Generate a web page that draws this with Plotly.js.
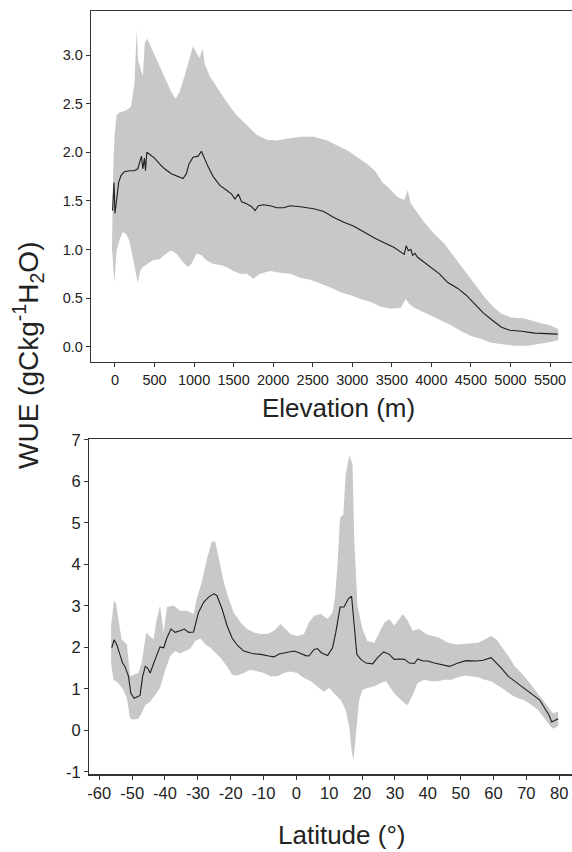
<!DOCTYPE html>
<html>
<head>
<meta charset="utf-8">
<script src="https://cdn.plot.ly/plotly-3.0.1.min.js"></script>
<style>html,body{margin:0;padding:0;background:#fff;}#chart{width:572px;height:852px;}</style>
</head>
<body>
<div id="chart"></div>
<script>
// ---- Top panel: WUE vs elevation ----
const elevMeanX = [-30,-13,0,21,47,76,119,182,246,288,318,335,352,373,386,403,436,500,564,627,712,797,860,903,936,987,1051,1093,1123,1178,1242,1326,1411,1475,1517,1559,1602,1665,1729,1771,1814,1877,1962,2047,2131,2216,2343,2513,2640,2767,2894,3021,3148,3275,3403,3530,3657,3682,3708,3742,3763,3792,3826,3911,3996,4102,4208,4335,4441,4547,4653,4758,4886,4992,5140,5309,5479,5597];
const elevMeanY = [1.40,1.69,1.37,1.54,1.69,1.76,1.80,1.81,1.81,1.83,1.92,1.96,1.83,1.94,1.81,2.00,1.98,1.94,1.88,1.83,1.78,1.75,1.73,1.78,1.88,1.95,1.96,2.01,1.95,1.85,1.75,1.66,1.61,1.57,1.52,1.57,1.49,1.47,1.44,1.40,1.45,1.46,1.45,1.43,1.43,1.45,1.44,1.42,1.39,1.33,1.28,1.24,1.18,1.12,1.07,1.02,0.95,1.04,0.99,1.00,0.94,0.96,0.92,0.87,0.82,0.75,0.66,0.60,0.53,0.44,0.35,0.28,0.20,0.17,0.16,0.14,0.13,0.13];
const elevUpX = [-38,-21,-4,21,55,140,203,246,275,292,318,352,377,403,436,500,564,627,712,767,818,881,945,987,1030,1072,1106,1136,1199,1284,1369,1453,1538,1665,1792,1919,2047,2174,2343,2513,2682,2809,2936,3064,3191,3297,3381,3466,3572,3657,3700,3742,3826,3911,4038,4165,4292,4420,4547,4674,4780,4886,5013,5182,5352,5500,5606];
const elevUpY = [1.02,1.85,2.19,2.38,2.41,2.43,2.47,2.71,3.26,2.95,2.88,2.78,3.12,3.17,3.12,3.00,2.88,2.76,2.62,2.55,2.62,2.79,2.98,3.09,3.02,2.97,3.07,2.91,2.78,2.67,2.57,2.47,2.38,2.28,2.18,2.13,2.12,2.14,2.16,2.16,2.12,2.07,2.02,1.95,1.88,1.80,1.69,1.63,1.54,1.51,1.61,1.47,1.37,1.28,1.16,1.06,0.92,0.78,0.65,0.51,0.41,0.34,0.30,0.29,0.25,0.22,0.18];
const elevLoX = [-38,-30,-8,21,55,97,140,182,225,267,288,318,352,415,479,564,648,712,775,860,924,966,1030,1093,1157,1242,1326,1411,1496,1581,1665,1750,1835,1962,2089,2216,2343,2470,2597,2724,2852,2979,3106,3233,3360,3487,3614,3678,3720,3784,3869,3996,4123,4250,4377,4504,4631,4758,4886,5055,5225,5394,5521,5606];
const elevLoY = [1.02,0.96,0.66,0.99,1.09,1.18,1.16,1.09,0.92,0.75,0.65,0.78,0.82,0.85,0.89,0.90,0.96,0.99,0.96,0.87,0.82,0.85,0.96,0.94,0.89,0.85,0.84,0.82,0.78,0.75,0.75,0.70,0.75,0.78,0.76,0.75,0.71,0.69,0.65,0.61,0.56,0.53,0.49,0.46,0.41,0.39,0.40,0.49,0.44,0.40,0.37,0.32,0.27,0.22,0.16,0.11,0.08,0.04,0.03,0.01,0.01,0.03,0.05,0.07];
const elevTicks = [0,500,1000,1500,2000,2500,3000,3500,4000,4500,5000,5500];
const wueTicksTop = [0.0,0.5,1.0,1.5,2.0,2.5,3.0];
const wueTickTextTop = ["0.0","0.5","1.0","1.5","2.0","2.5","3.0"];

// ---- Bottom panel: WUE vs latitude ----
const latMeanX = [-56.2,-55.5,-54.7,-53.7,-52.9,-52.2,-51.1,-50.4,-49.4,-48.4,-47.6,-46.8,-46.0,-45.3,-44.5,-43.0,-41.5,-40.4,-39.4,-38.2,-36.9,-35.4,-34.1,-32.8,-31.3,-29.8,-28.2,-26.7,-25.2,-24.2,-22.6,-21.1,-19.6,-18.0,-16.0,-13.5,-10.9,-8.4,-6.8,-5.3,-2.8,-0.7,0.8,2.8,3.8,5.4,6.4,7.6,9.5,11.0,12.0,13.3,14.5,15.8,16.8,17.6,18.4,19.6,21.2,23.2,24.7,26.6,28.3,29.8,31.3,32.9,34.4,35.9,36.9,38.5,40.0,42.0,44.1,46.6,49.2,51.7,54.8,56.8,59.3,60.9,62.4,64.5,66.5,68.5,70.6,72.6,74.1,75.6,76.9,77.7,78.7,79.7];
const latMeanY = [1.99,2.18,2.07,1.79,1.62,1.54,1.30,0.89,0.77,0.81,0.84,1.30,1.54,1.50,1.38,1.71,2.01,1.99,2.23,2.44,2.36,2.40,2.44,2.36,2.37,2.84,3.09,3.21,3.29,3.25,2.92,2.52,2.23,2.05,1.91,1.85,1.83,1.79,1.77,1.84,1.87,1.91,1.87,1.80,1.79,1.95,1.97,1.87,1.80,1.99,2.36,2.97,2.97,3.17,3.23,2.52,1.83,1.71,1.62,1.60,1.75,1.89,1.83,1.71,1.72,1.71,1.62,1.61,1.72,1.67,1.67,1.62,1.58,1.54,1.62,1.68,1.67,1.69,1.75,1.62,1.50,1.30,1.18,1.06,0.93,0.83,0.73,0.53,0.37,0.20,0.24,0.28];
const latUpX = [-56.4,-55.5,-54.9,-54.2,-53.2,-51.6,-50.6,-49.6,-48.1,-47.1,-45.7,-44.7,-43.5,-42.5,-41.5,-40.4,-39.4,-37.4,-35.4,-33.3,-31.3,-30.3,-28.7,-27.2,-25.7,-24.7,-23.6,-22.1,-20.6,-19.1,-17.0,-15.0,-13.0,-10.9,-8.9,-6.8,-4.8,-3.8,-1.8,0.3,2.3,3.8,5.4,7.4,9.5,11.0,11.7,12.5,13.3,14.3,15.0,16.1,17.1,17.6,18.6,20.1,21.6,23.7,25.2,26.8,28.3,29.8,31.3,32.4,33.9,35.4,37.4,39.5,41.5,43.5,46.1,49.2,52.2,55.3,57.3,59.3,60.9,62.4,64.5,66.5,68.5,70.6,72.6,74.6,76.6,78.1,79.7];
const latUpY = [2.52,3.13,3.05,2.68,2.19,2.07,1.30,1.34,1.38,1.62,2.36,2.27,2.19,2.68,3.01,2.36,2.97,3.01,2.88,2.88,2.80,3.17,3.61,4.14,4.55,4.55,4.14,3.57,3.17,2.84,2.60,2.44,2.36,2.32,2.32,2.40,2.56,2.48,2.32,2.27,2.32,2.60,2.76,2.80,2.68,2.84,3.17,3.98,5.12,5.20,6.17,6.62,6.42,4.63,3.01,2.44,2.15,2.11,2.36,2.60,2.68,2.52,2.68,2.80,2.64,2.40,2.44,2.32,2.27,2.23,2.11,2.07,2.09,2.11,2.19,2.27,2.19,2.03,1.79,1.54,1.38,1.18,0.97,0.77,0.57,0.41,0.45];
const latLoX = [-56.4,-55.7,-54.2,-52.7,-51.6,-50.6,-49.6,-48.1,-47.1,-46.0,-44.5,-43.0,-41.5,-39.9,-38.4,-36.9,-35.4,-33.8,-32.3,-30.8,-29.2,-27.7,-26.2,-24.7,-23.1,-21.1,-19.6,-18.0,-16.0,-14.0,-11.9,-9.9,-7.9,-5.8,-3.8,-1.8,0.3,2.3,4.4,6.4,8.4,10.0,11.5,13.5,15.0,16.1,16.8,17.4,18.1,19.1,20.1,21.6,23.7,25.7,27.3,28.3,29.8,31.3,32.9,33.9,35.4,36.9,38.9,41.0,43.0,45.0,47.1,49.2,51.2,53.2,55.3,57.3,59.3,61.4,63.4,65.5,67.5,69.5,71.6,73.6,75.6,77.1,78.1,79.7];
const latLoY = [1.62,1.22,1.14,0.97,0.77,0.28,0.26,0.28,0.41,0.61,0.69,0.85,1.02,1.46,1.79,1.91,1.85,1.91,1.97,2.15,2.21,2.07,1.99,1.87,1.75,1.54,1.34,1.32,1.38,1.46,1.42,1.38,1.30,1.30,1.38,1.42,1.38,1.26,1.18,1.06,0.93,1.02,0.89,0.73,0.49,0.08,-0.49,-0.73,-0.08,0.73,0.97,1.02,1.06,1.14,1.18,1.06,0.89,0.77,0.65,0.61,0.85,1.14,1.22,1.18,1.18,1.22,1.22,1.28,1.32,1.30,1.28,1.22,1.18,1.07,0.97,0.85,0.77,0.72,0.61,0.49,0.28,0.12,0.04,0.10];
const latTicks = [-60,-50,-40,-30,-20,-10,0,10,20,30,40,50,60,70,80];
const latTickText = ["-60","-50","-40","-30","-20","-10","0","10","20","30","40","50","60","70","80"];
const wueTicksBottom = [-1,0,1,2,3,4,5,6,7];
const wueTickTextBottom = ["-1","0","1","2","3","4","5","6","7"];

// ---- Text ----
const xTitleTop = "Elevation (m)";
const xTitleBottom = "Latitude (°)";
const yTitle = "WUE (gCkg<sup>-1</sup>H<sub>2</sub>O)";

const W = 572, H = 852;
const band = "#c8c8c8", lineC = "#1e1e1e", axC = "#333333", txt = "#222222";
const FONT = "Liberation Sans, Arial, sans-serif";

function poly(ux, uy, lx, ly) {
  return {x: ux.concat(lx.slice().reverse()), y: uy.concat(ly.slice().reverse())};
}
const pTop = poly(elevUpX, elevUpY, elevLoX, elevLoY);
const pBot = poly(latUpX, latUpY, latLoX, latLoY);

const traces = [
  {x: pTop.x, y: pTop.y, xaxis: "x", yaxis: "y", type: "scatter", mode: "lines",
   fill: "toself", fillcolor: band, line: {width: 0, color: band}, hoverinfo: "skip"},
  {x: elevMeanX, y: elevMeanY, xaxis: "x", yaxis: "y", type: "scatter", mode: "lines",
   line: {color: lineC, width: 1.1}},
  {x: pBot.x, y: pBot.y, xaxis: "x2", yaxis: "y2", type: "scatter", mode: "lines",
   fill: "toself", fillcolor: band, line: {width: 0, color: band}, hoverinfo: "skip"},
  {x: latMeanX, y: latMeanY, xaxis: "x2", yaxis: "y2", type: "scatter", mode: "lines",
   line: {color: lineC, width: 1.1}}
];

function axis(extra) {
  return Object.assign({
    showgrid: false, zeroline: false, showline: true, linecolor: axC, linewidth: 1.3,
    ticks: "outside", ticklen: 4, tickwidth: 1, tickcolor: axC,
    tickfont: {family: FONT, size: 15, color: txt}, fixedrange: true
  }, extra);
}

const layout = {
  width: W, height: H,
  margin: {l: 0, r: 0, t: 0, b: 0},
  paper_bgcolor: "#ffffff", plot_bgcolor: "#ffffff",
  showlegend: false,
  font: {family: FONT, color: txt},
  xaxis: axis({domain: [91/W, 1], range: [-303, 5778], tickvals: elevTicks, mirror: true,
               anchor: "y", tickfont: {family: FONT, size: 14.5, color: txt}}),
  yaxis: axis({domain: [(H-362)/H, (H-11)/H], range: [-0.157, 3.453], tickvals: wueTicksTop,
               ticktext: wueTickTextTop, anchor: "x", tickfont: {family: FONT, size: 14.5, color: txt}}),
  xaxis2: axis({domain: [89.3/W, 1], range: [-63.04, 83.9], tickvals: latTicks, ticktext: latTickText,
                mirror: true, anchor: "y2", tickfont: {family: FONT, size: 16.5, color: txt}}),
  yaxis2: axis({domain: [(H-774.3)/H, (H-439)/H], range: [-1.06, 7.02], tickvals: wueTicksBottom,
                ticktext: wueTickTextBottom, anchor: "x2", tickfont: {family: FONT, size: 16.5, color: txt}}),
  annotations: [
    {text: xTitleTop, xref: "paper", yref: "paper", x: 338/W, y: (H-408)/H,
     xanchor: "center", yanchor: "middle", showarrow: false, font: {family: FONT, size: 26, color: txt}},
    {text: xTitleBottom, xref: "paper", yref: "paper", x: 341/W, y: (H-835)/H,
     xanchor: "center", yanchor: "middle", showarrow: false, font: {family: FONT, size: 26, color: txt}},
    {text: yTitle, xref: "paper", yref: "paper", x: 28/W, y: (H-356)/H, textangle: -90,
     xanchor: "center", yanchor: "middle", showarrow: false, font: {family: FONT, size: 28, color: txt}}
  ]
};

Plotly.newPlot("chart", traces, layout, {displayModeBar: false, staticPlot: true});
</script>
</body>
</html>
